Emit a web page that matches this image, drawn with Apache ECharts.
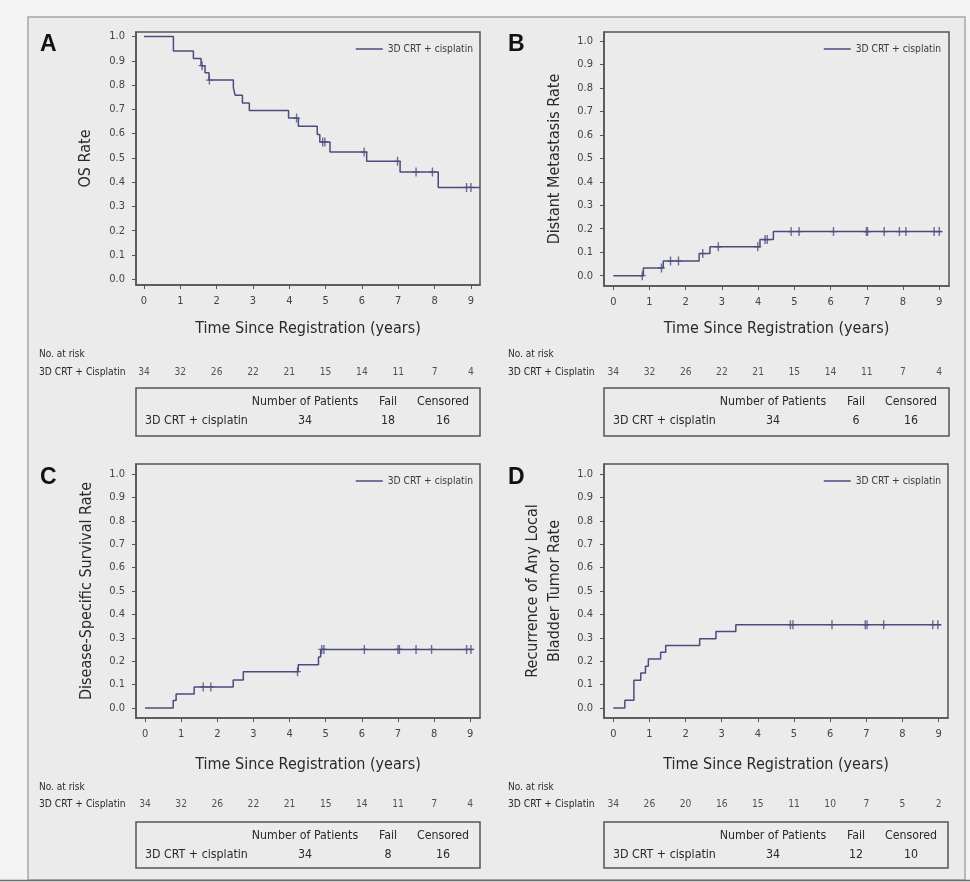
<!DOCTYPE html>
<html>
<head>
<meta charset="utf-8">
<script src="https://cdn.jsdelivr.net/npm/echarts@6/dist/echarts.min.js"></script>
<style>
  html, body { margin: 0; padding: 0; background: #f3f3f3; }
  #chart { width: 970px; height: 882px; }
</style>
</head>
<body>
<div id="chart"></div>
<script>
// ---- data ----
var seriesName = '3D CRT + cisplatin';
var xTicks = [0, 1, 2, 3, 4, 5, 6, 7, 8, 9];
var yTicks = [0, 0.1, 0.2, 0.3, 0.4, 0.5, 0.6, 0.7, 0.8, 0.9, 1.0];
var riskTimes = [0, 1, 2, 3, 4, 5, 6, 7, 8, 9];
var tableHeads = ['Number of Patients', 'Fail', 'Censored'];

// A: overall survival
var timeA = [0, 0.81, 1.36, 1.57, 1.68, 1.79, 2.46, 2.51, 2.71, 2.90, 3.98, 4.25, 4.77, 4.84, 5.12, 6.13, 7.05, 8.10];
var rateA = [1.0, 0.941, 0.910, 0.880, 0.851, 0.821, 0.790, 0.758, 0.726, 0.695, 0.664, 0.630, 0.596, 0.566, 0.524, 0.486, 0.442, 0.378];
var endA = 9.25;
var censorA = [1.60, 1.80, 4.20, 4.92, 4.98, 6.06, 6.98, 7.49, 7.94, 8.88, 9.00];
var riskA = [34, 32, 26, 22, 21, 15, 14, 11, 7, 4];
var tableA = [34, 18, 16];

// B: distant metastasis
var timeB = [0, 0.83, 1.38, 2.37, 2.67, 4.05, 4.42];
var rateB = [0, 0.033, 0.063, 0.094, 0.123, 0.154, 0.188];
var endB = 9.07;
var censorB = [0.80, 1.33, 1.58, 1.80, 2.47, 2.90, 3.99, 4.19, 4.25, 4.91, 5.13, 6.08, 6.99, 7.02, 7.48, 7.90, 8.08, 8.86, 9.00];
var riskB = [34, 32, 26, 22, 21, 15, 14, 11, 7, 4];
var tableB = [34, 6, 16];

// C: disease-specific survival
var timeC = [0, 0.78, 0.86, 1.36, 2.44, 2.72, 4.24, 4.80, 4.86];
var rateC = [0, 0.032, 0.060, 0.090, 0.120, 0.155, 0.185, 0.218, 0.250];
var endC = 9.08;
var censorC = [1.61, 1.82, 4.22, 4.89, 4.95, 6.07, 7.00, 7.04, 7.50, 7.93, 8.90, 9.02];
var riskC = [34, 32, 26, 22, 21, 15, 14, 11, 7, 4];
var tableC = [34, 8, 16];

// D: local bladder tumor recurrence
var timeD = [0, 0.32, 0.57, 0.76, 0.89, 0.97, 1.31, 1.45, 2.39, 2.84, 3.39];
var rateD = [0, 0.033, 0.118, 0.149, 0.178, 0.209, 0.238, 0.267, 0.296, 0.327, 0.356];
var endD = 9.07;
var censorD = [4.90, 4.97, 6.05, 6.97, 7.02, 7.48, 8.84, 8.98];
var riskD = [34, 26, 20, 16, 15, 11, 10, 7, 5, 2];
var tableD = [34, 12, 10];

// ---- layout ----
var NARROW = '"DejaVu Sans Condensed", "Liberation Sans Narrow", sans-serif';
var SANS = '"Liberation Sans", Arial, sans-serif';
var lineColor = '#4a4c7e';
var boxColor = '#555';
var textColor = '#2a2a2a';
var plusPath = 'path://M4,0H6V4.3H10V5.7H6V10H4V5.7H0V4.3H4Z';

var panels = [
  { letter: 'A', ytitle: 'OS Rate', t: timeA, v: rateA, end: endA, cens: censorA, risk: riskA, table: tableA,
    left: 136, top: 32, width: 344, height: 253, xMin: -0.22, xMax: 9.25, yMin: -0.024, yMax: 1.019,
    xGap: 36, yGap: 39,
    riskY: 372, noteY: 354, tableTop: 388, tableH: 48, legRight: 497, legTop: 44, letterX: 40, letterY: 45, labelX: 39 },
  { letter: 'B', ytitle: 'Distant Metastasis Rate', t: timeB, v: rateB, end: endB, cens: censorB, risk: riskB, table: tableB,
    left: 604, top: 32, width: 345, height: 254, xMin: -0.257, xMax: 9.27, yMin: -0.044, yMax: 1.038,
    xGap: 35, yGap: 38,
    riskY: 372, noteY: 354, tableTop: 388, tableH: 48, legRight: 29, legTop: 44, letterX: 508, letterY: 45, labelX: 508 },
  { letter: 'C', ytitle: 'Disease-Specific Survival Rate', t: timeC, v: rateC, end: endC, cens: censorC, risk: riskC, table: tableC,
    left: 136, top: 464, width: 344, height: 254, xMin: -0.25, xMax: 9.27, yMin: -0.043, yMax: 1.043,
    xGap: 39, yGap: 38,
    riskY: 804, noteY: 787, tableTop: 822, tableH: 46, legRight: 497, legTop: 476, letterX: 40, letterY: 478, labelX: 39 },
  { letter: 'D', ytitle: 'Recurrence of Any Local\nBladder Tumor Rate', t: timeD, v: rateD, end: endD, cens: censorD, risk: riskD, table: tableD,
    left: 604, top: 464, width: 344, height: 254, xMin: -0.257, xMax: 9.26, yMin: -0.043, yMax: 1.043,
    xGap: 39, yGap: 38,
    riskY: 804, noteY: 787, tableTop: 822, tableH: 46, legRight: 29, legTop: 476, letterX: 508, letterY: 478, labelX: 508 }
];

// value of the step curve at time x
function stepAt(times, vals, x) {
  var r = vals[0];
  for (var i = 0; i < times.length; i++) {
    if (times[i] <= x) r = vals[i];
  }
  return r;
}

var grids = [], xAxes = [], yAxes = [], series = [], legends = [];
var graphics = [
  { type: 'rect', shape: { x: 28, y: 17, width: 937, height: 863 }, style: { fill: '#ebebeb', stroke: '#a3a9b0', lineWidth: 1.5 }, z: -10 },
  { type: 'line', shape: { x1: 0, y1: 880.5, x2: 970, y2: 880.5 }, style: { stroke: '#6b6b6b', lineWidth: 1.5 } }
];

panels.forEach(function (p, i) {
  grids.push({ left: p.left, top: p.top, width: p.width, height: p.height, show: true,
    borderColor: boxColor, borderWidth: 1.5, backgroundColor: 'transparent' });

  xAxes.push({
    gridIndex: i, type: 'value', min: p.xMin, max: p.xMax,
    axisLine: { show: true, onZero: false, lineStyle: { color: boxColor, width: 1.5 } },
    axisTick: { show: true, customValues: xTicks, length: 4, lineStyle: { color: boxColor } },
    axisLabel: { customValues: xTicks, margin: 11, fontFamily: NARROW, fontSize: 11, color: '#444' },
    splitLine: { show: false },
    name: 'Time Since Registration (years)', nameLocation: 'middle', nameGap: p.xGap,
    nameTextStyle: { fontFamily: NARROW, fontSize: 16, color: textColor }
  });
  yAxes.push({
    gridIndex: i, type: 'value', min: p.yMin, max: p.yMax,
    axisLine: { show: true, onZero: false, lineStyle: { color: boxColor, width: 1.5 } },
    axisTick: { show: true, customValues: yTicks, length: 4, lineStyle: { color: boxColor } },
    axisLabel: { customValues: yTicks, margin: 11, fontFamily: NARROW, fontSize: 11, color: '#444',
      formatter: function (v) { return Number(v).toFixed(1); } },
    splitLine: { show: false },
    name: p.ytitle, nameLocation: 'middle', nameRotate: 90, nameGap: p.yGap,
    nameTextStyle: { fontFamily: NARROW, fontSize: 16, color: textColor, lineHeight: 22 }
  });

  var curve = p.t.map(function (t, k) { return [t, p.v[k]]; });
  curve.push([p.end, p.v[p.v.length - 1]]);
  series.push({
    type: 'line', name: seriesName, xAxisIndex: i, yAxisIndex: i, step: 'end',
    data: curve, showSymbol: false, silent: true,
    lineStyle: { color: lineColor, width: 1.5 }, itemStyle: { color: lineColor }
  });
  series.push({
    type: 'scatter', name: 'censored', xAxisIndex: i, yAxisIndex: i, silent: true,
    symbol: plusPath, symbolSize: [7, 9], itemStyle: { color: lineColor },
    data: p.cens.map(function (t) { return [t, stepAt(p.t, p.v, t)]; })
  });

  legends.push({
    right: p.legRight, top: p.legTop, padding: 0, itemGap: 5,
    icon: 'rect', itemWidth: 27, itemHeight: 1.5, selectedMode: false,
    data: [seriesName],
    textStyle: { fontFamily: NARROW, fontSize: 10.2, color: '#3a3a3a' }
  });

  graphics.push(
    { type: 'text', x: p.letterX, y: p.letterY, style: { text: p.letter, font: 'bold 23px ' + SANS, fill: '#111', verticalAlign: 'middle' } },
    { type: 'text', x: p.labelX, y: p.noteY, style: { text: 'No. at risk', font: '10px ' + NARROW, fill: textColor, verticalAlign: 'middle' } },
    { type: 'text', x: p.labelX, y: p.riskY, style: { text: '3D CRT + Cisplatin', font: '10.2px ' + NARROW, fill: textColor, verticalAlign: 'middle' } }
  );

  // summary table
  var tx = p.left, ty = p.tableTop;
  var cols = [169, 252, 307];
  graphics.push({ type: 'rect', shape: { x: tx, y: ty, width: p.width, height: p.tableH },
    style: { fill: 'none', stroke: boxColor, lineWidth: 1.5 } });
  tableHeads.forEach(function (h, k) {
    graphics.push({ type: 'text', x: tx + cols[k], y: ty + 14, style: { text: h, font: '12.3px ' + NARROW, fill: textColor, align: 'center', verticalAlign: 'middle' } });
    graphics.push({ type: 'text', x: tx + cols[k], y: ty + 33, style: { text: String(p.table[k]), font: '12.3px ' + NARROW, fill: textColor, align: 'center', verticalAlign: 'middle' } });
  });
  graphics.push({ type: 'text', x: tx + 9, y: ty + 33, style: { text: seriesName, font: '12.3px ' + NARROW, fill: textColor, verticalAlign: 'middle' } });
});

// number-at-risk rows share the x scale of their plot
panels.forEach(function (p, i) {
  var gi = panels.length + i;
  grids.push({ left: p.left, top: p.riskY - 6, width: p.width, height: 12 });
  xAxes.push({ gridIndex: gi, type: 'value', min: p.xMin, max: p.xMax, show: false });
  yAxes.push({ gridIndex: gi, type: 'value', min: 0, max: 1, show: false });
  series.push({
    type: 'scatter', name: 'at risk', xAxisIndex: gi, yAxisIndex: gi, silent: true, symbolSize: 0,
    data: riskTimes.map(function (t, k) { return [t, 0.5, p.risk[k]]; }),
    label: { show: true, position: 'inside', fontFamily: NARROW, fontSize: 10.2, color: textColor,
      formatter: function (d) { return d.value[2]; } }
  });
});

var chart = echarts.init(document.getElementById('chart'), null, { renderer: 'canvas' });
chart.setOption({
  backgroundColor: '#f3f3f3',
  animation: false,
  grid: grids,
  xAxis: xAxes,
  yAxis: yAxes,
  legend: legends,
  series: series,
  graphic: graphics
});
</script>
</body>
</html>
